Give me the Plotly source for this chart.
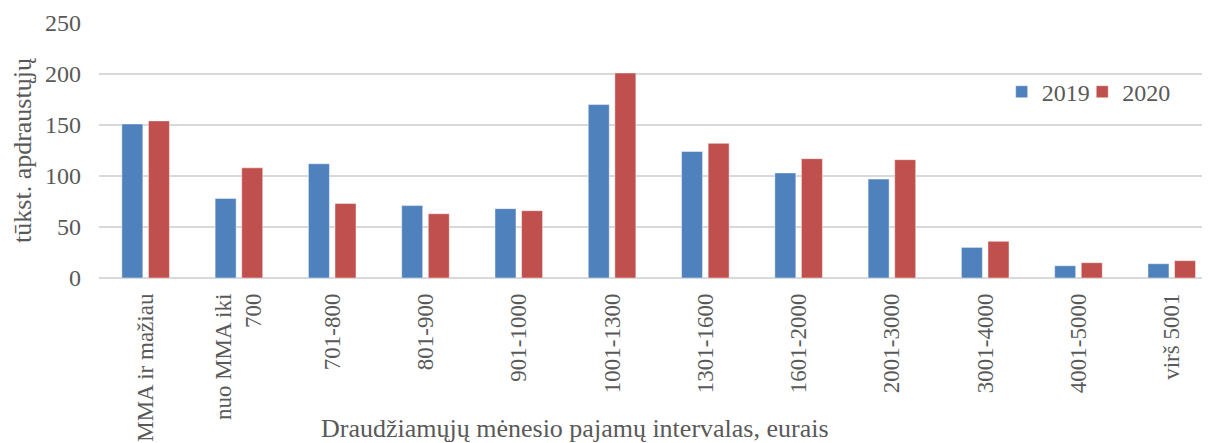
import plotly.graph_objects as go

categories = ["MMA ir mažiau", "nuo MMA iki<br>700", "701-800", "801-900", "901-1000",
              "1001-1300", "1301-1600", "1601-2000", "2001-3000", "3001-4000",
              "4001-5000", "virš 5001"]
values_2019 = [151, 78, 112, 71, 68, 170, 124, 103, 97, 30, 12, 14]
values_2020 = [154, 108, 73, 63, 66, 201, 132, 117, 116, 36, 15, 17]
y_ticks = [0, 50, 100, 150, 200, 250]

FONT = "Liberation Serif, Times New Roman, serif"
GREY = "#595959"

fig = go.Figure()
fig.add_trace(go.Bar(x=categories, y=values_2019, name="2019", legend="legend",
                     marker=dict(color="#4F81BD", line=dict(color="rgba(255,255,255,0.45)", width=1))))
fig.add_trace(go.Bar(x=categories, y=values_2020, name="2020", legend="legend2",
                     marker=dict(color="#C0504D", line=dict(color="rgba(255,255,255,0.45)", width=1))))

legend_style = dict(orientation="h", y=0.729, xanchor="left", yanchor="middle",
                    font=dict(family=FONT, size=24, color=GREY), bgcolor="rgba(0,0,0,0)")

# page body has an 8px default margin, so the figure is 8px smaller and offset
fig.update_layout(
    width=1202, height=435,
    margin=dict(l=91, r=0, t=15, b=165, autoexpand=False),
    plot_bgcolor="white", paper_bgcolor="white",
    barmode="group", bargap=0.43, bargroupgap=0.21,
    font=dict(family=FONT, size=24, color=GREY),
    showlegend=True,
    legend=dict(x=0.8125, **legend_style),
    legend2=dict(x=0.8850, **legend_style),
    xaxis=dict(range=[-0.5, 11.41], tickangle=-90, tickfont=dict(family=FONT, size=23, color=GREY),
               showgrid=False, showline=False, ticks="", ticklen=0, ticklabelstandoff=10,
               automargin=False),
    yaxis=dict(range=[0, 250], tickvals=y_ticks, showgrid=True, gridcolor="#D9D9D9", gridwidth=1.5,
               zeroline=True, zerolinecolor="#D9D9D9", zerolinewidth=2,
               tickfont=dict(family=FONT, size=24, color=GREY), ticks="", ticklen=0,
               ticklabelstandoff=17, automargin=False,
               title=dict(text="tūkst. apdraustųjų", font=dict(family=FONT, size=26, color=GREY),
                          standoff=6)),
)
fig.add_annotation(text="Draudžiamųjų mėnesio pajamų intervalas, eurais", xref="paper", yref="paper",
                   x=0.4284, y=-0.59, xanchor="center", yanchor="middle", showarrow=False,
                   font=dict(family=FONT, size=26, color=GREY))

fig.write_html("out.html")
